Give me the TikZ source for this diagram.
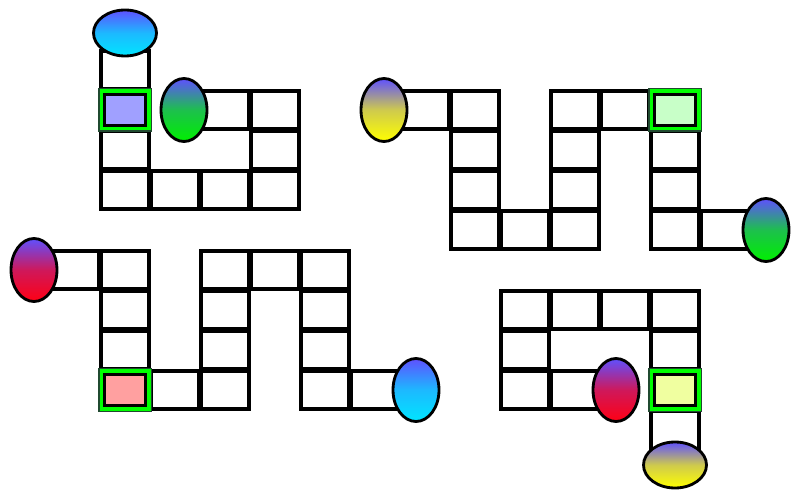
\documentclass[tikz,border=0pt]{standalone}
\usepackage{tikz}
\usetikzlibrary{shapes.geometric}

\definecolor{topblue}{RGB}{95,80,255}
\definecolor{portcyan}{RGB}{0,230,255}
\definecolor{portgreen}{RGB}{0,240,0}
\definecolor{portyellow}{RGB}{255,255,0}
\definecolor{portred}{RGB}{255,0,20}
\definecolor{framegreen}{RGB}{32,74,48}
\definecolor{brightgreen}{RGB}{0,255,0}
\definecolor{goalblue}{RGB}{160,160,255}
\definecolor{goalgreen}{RGB}{200,255,200}
\definecolor{goalred}{RGB}{255,160,160}
\definecolor{goalyellow}{RGB}{240,255,160}

\begin{document}
\begin{tikzpicture}[x=0.3mm, y=-0.3mm,
	cell/.style={draw, line width=0.95mm, minimum width=14.4mm, minimum height=11.4mm, inner sep=0pt},
	frame/.style={draw=framegreen, fill=brightgreen, line width=0.45mm, minimum width=15.75mm, minimum height=12.75mm, inner sep=0pt},
	goal/.style={draw, line width=1mm, minimum width=12.3mm, minimum height=9.15mm, inner sep=0pt},
	vport/.style={ellipse, draw, line width=0.85mm, minimum width=13.8mm, minimum height=18.9mm, inner sep=0pt,
		top color=topblue, bottom color=#1, middle color=#1!70!topblue},
	hport/.style={ellipse, draw, line width=0.85mm, minimum width=18.9mm, minimum height=13.8mm, inner sep=0pt,
		top color=topblue, bottom color=#1, middle color=#1!70!topblue}]
			\useasboundingbox (0, 0) rectangle (800, 500);
			% top left
			\foreach \n/\x/\y in {a1/125/70, a3/125/150, a4/125/190, a5/175/190, a6/225/190,
				a7/275/190, a8/275/150, a9/275/110, a10/225/110}
				\node[cell] (\n) at (\x, \y) {};
			% top right
			\foreach \n/\x/\y in {b1/425/110, b2/475/110, b3/475/150, b4/475/190, b5/475/230,
				b6/525/230, b7/575/230, b8/575/190, b9/575/150, b10/575/110, b11/625/110,
				b13/675/150, b14/675/190, b15/675/230, b16/725/230}
				\node[cell] (\n) at (\x, \y) {};
			% bottom left
			\foreach \n/\x/\y in {c1/75/270, c2/125/270, c3/125/310, c4/125/350, c6/175/390,
				c7/225/390, c8/225/350, c9/225/310, c10/225/270, c11/275/270, c12/325/270,
				c13/325/310, c14/325/350, c15/325/390, c16/375/390}
				\node[cell] (\n) at (\x, \y) {};
			% bottom right
			\foreach \n/\x/\y in {d1/575/390, d2/525/390, d3/525/350, d4/525/310, d5/575/310,
				d6/625/310, d7/675/310, d8/675/350, d10/675/430}
				\node[cell] (\n) at (\x, \y) {};
			% marked cells
			\node[frame] (a2f) at (125, 110) {};
			\node[goal, fill=goalblue] (a2) at (a2f) {};
			\node[frame] (b12f) at (675, 110) {};
			\node[goal, fill=goalgreen] (b12) at (b12f) {};
			\node[frame] (c5f) at (125, 390) {};
			\node[goal, fill=goalred] (c5) at (c5f) {};
			\node[frame] (d9f) at (675, 390) {};
			\node[goal, fill=goalyellow] (d9) at (d9f) {};
			% ends
			\node[hport=portcyan] (a0) at (125, 33) {};
			\node[vport=portgreen] (a11) at (184, 110) {};
			\node[vport=portyellow] (b0) at (384, 110) {};
			\node[vport=portgreen] (b17) at (766, 230) {};
			\node[vport=portred] (c0) at (34, 270) {};
			\node[vport=portcyan] (c17) at (416, 390) {};
			\node[vport=portred] (d0) at (616, 390) {};
			\node[hport=portyellow] (d11) at (675, 465) {};
		\end{tikzpicture}
\end{document}
